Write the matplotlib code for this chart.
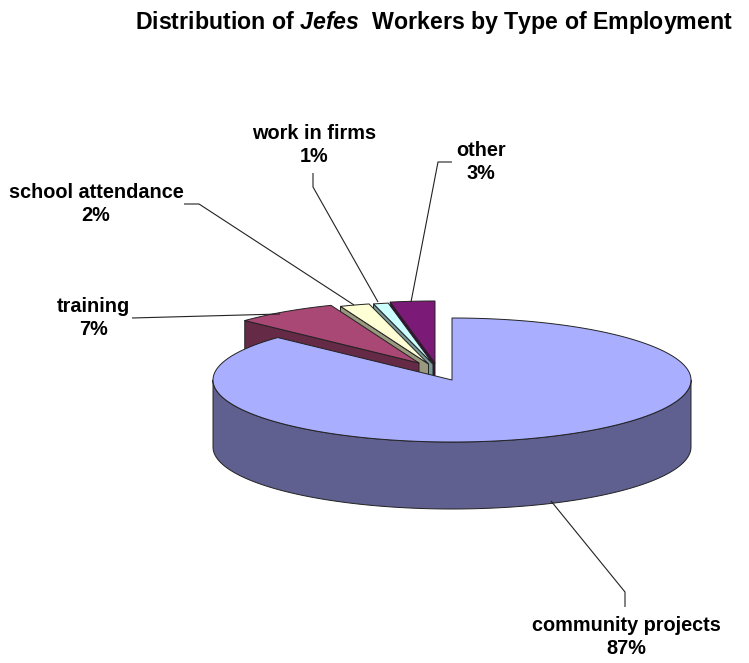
import numpy as np
import matplotlib
matplotlib.use('Agg')
import matplotlib.pyplot as plt
from matplotlib.patches import Polygon

plt.rcParams['font.family'] = ['Liberation Sans', 'DejaVu Sans']
plt.rcParams['mathtext.fontset'] = 'custom'
plt.rcParams['mathtext.it'] = 'Liberation Sans:italic:bold'
plt.rcParams['mathtext.rm'] = 'Liberation Sans:bold'

# Data
categories = ['community projects', 'training', 'school attendance', 'work in firms', 'other']
shares = [87, 7, 2, 1, 3]

# Style
top_colors = ['#A9AEFF', '#A94874', '#FFFFD6', '#CCFFFF', '#7C1A78']
side_colors = ['#5F6090', '#652A46', '#99997F', '#7A9999', '#3F0D3C']

# Layout, all in pixels of the output picture
apex = [(452, 380), (419, 363), (428.5, 364), (433, 364), (435, 363)]
rx, ry, depth = 239, 62, 67
label_pos = [(626, 637), (93, 318), (96, 204), (314, 145), (481, 162)]
leaders = [[(625, 607), (625, 592), (551, 501)],
           [(132, 318), (280, 314)],
           [(184, 204), (199, 204), (354, 305)],
           [(313, 173), (313, 187), (378, 302)],
           [(452, 162), (438, 162), (411, 302)]]


def rim(centre, a0, a1):
    # Points on the ellipse, angles clockwise from the top, in degrees
    t = np.radians(np.linspace(a0, a1, max(int(abs(a1 - a0) * 2), 2)))
    return np.column_stack([centre[0] + rx*np.sin(t), centre[1] - ry*np.cos(t)])


fig = plt.figure(figsize=(7.49, 6.63), dpi=100)
ax = fig.add_axes([0, 0, 1, 1])
ax.set_xlim(0, 749)
ax.set_ylim(663, 0)
ax.axis('off')

edges = np.cumsum([0] + shares) * 3.6
edge_kw = dict(edgecolor='#222222', linewidth=0.7, joinstyle='round')

# Small slices go back to front, the big one covers what is left of their walls
for i in [4, 3, 2, 1]:
    c = np.array(apex[i])
    outer = rim(c, edges[i], edges[i+1])
    wall = np.array([outer[0], c, c + [0, depth], outer[0] + [0, depth]])
    ax.add_patch(Polygon(wall, facecolor=side_colors[i], **edge_kw))
    ax.add_patch(Polygon(np.vstack([c, outer]), facecolor=top_colors[i], **edge_kw))

# Big slice, side first
c = np.array(apex[0])
front = rim(c, 90, 270)
ax.add_patch(Polygon(np.vstack([front, front[::-1] + [0, depth]]),
                     facecolor=side_colors[0], **edge_kw))
ax.add_patch(Polygon(np.vstack([c, rim(c, edges[0], edges[1])]),
                     facecolor=top_colors[0], **edge_kw))

for pts in leaders:
    pts = np.array(pts)
    ax.plot(pts[:, 0], pts[:, 1], color='#222222', lw=0.8, solid_capstyle='butt')

for name, share, pos in zip(categories, shares, label_pos):
    ax.text(pos[0], pos[1], '%s\n%d%%' % (name, share), ha='center', va='center',
            fontsize=14.3, fontweight='bold', linespacing=1.3, color='black')

ax.text(434, 22, r'Distribution of $\mathit{Jefes}$  Workers by Type of Employment',
        ha='center', va='center', fontsize=16.7, fontweight='bold', color='black')

fig.savefig('out.png', dpi=100, facecolor='white')
